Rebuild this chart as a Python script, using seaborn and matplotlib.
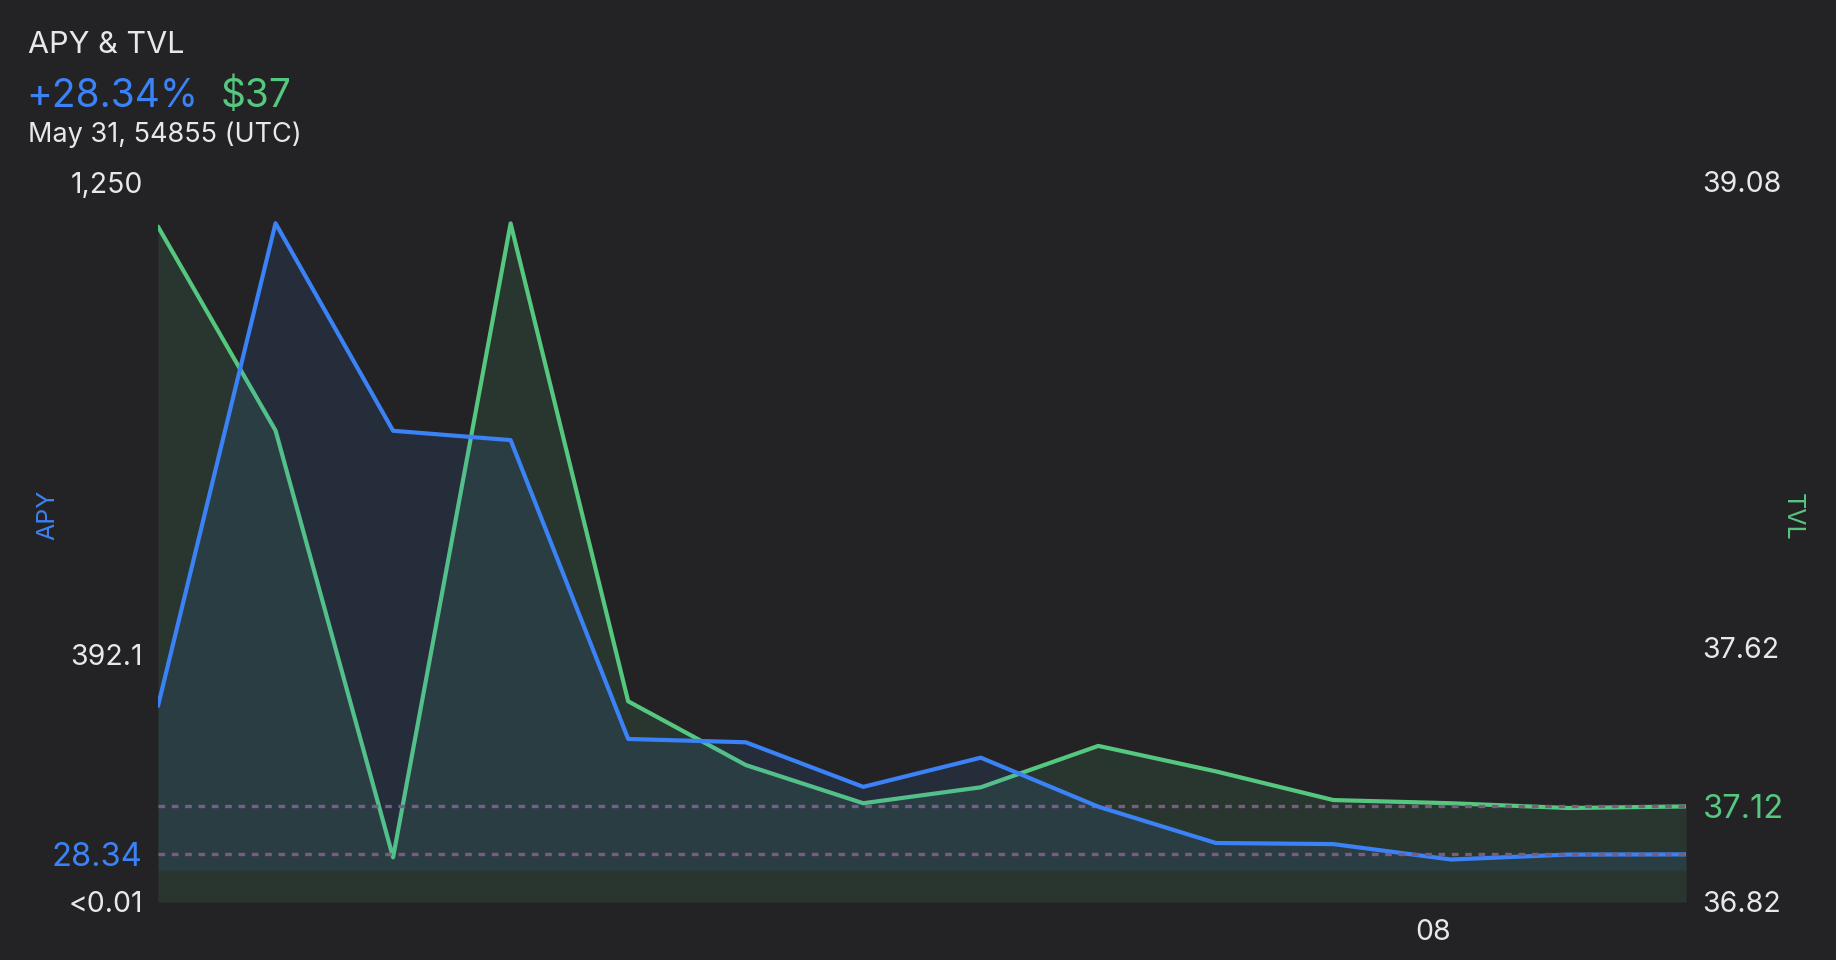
import numpy as np
import pandas as pd
import seaborn as sns
import matplotlib.pyplot as plt

# data
steps = list(range(14))
apy = [298, 1175, 798, 781, 238, 232, 151, 204, 115, 49, 47, 19, 28, 28.34]
tvl = [38.94, 38.30, 36.96, 38.95, 37.45, 37.25, 37.13, 37.18, 37.31, 37.23, 37.14, 37.13, 37.115, 37.12]
apy_ticks = [1250, 392.1, 28.34]
apy_tick_labels = ['1,250', '392.1', '28.34', '<0.01']
tvl_ticks = [39.08, 37.62, 37.12, 36.82]
tvl_tick_labels = ['39.08', '37.62', '37.12', '36.82']
x_ticks = [10.85]
x_tick_labels = ['08']

df = pd.DataFrame({'step': steps, 'apy': apy, 'tvl': tvl})

bg = '#232325'
blue = '#3b82f6'
green = '#56c77f'
txt = '#e8e8ec'
dot = '#7c5c7e'

sns.set_theme(style='dark', rc={'figure.facecolor': bg, 'axes.facecolor': bg})
plt.rcParams['font.family'] = ['Inter', 'DejaVu Sans']

fig = plt.figure(figsize=(18.36, 9.6), dpi=100)
ax = fig.add_axes([158 / 1836, 1 - 902 / 960, 1528 / 1836, 720 / 960])
ax2 = ax.twinx()

apy_bottom = -58.2
ax.set_ylim(apy_bottom, 1250)
ax2.set_ylim(36.82, 39.08)
ax.set_xlim(0, 13)

# TVL (right axis)
ax2.fill_between(df['step'], df['tvl'], 36.82, color=green, alpha=0.12, lw=0)
sns.lineplot(data=df, x='step', y='tvl', ax=ax2, color=green, linewidth=3.0)
ax2.axhline(tvl[-1], color=dot, lw=2.4, ls=(0, (2, 2)))

# APY (left axis) on top
ax.set_zorder(ax2.get_zorder() + 1)
ax.patch.set_visible(False)
ax.fill_between(df['step'], df['apy'], 0, color=blue, alpha=0.1, lw=0)
sns.lineplot(data=df, x='step', y='apy', ax=ax, color=blue, linewidth=3.0)
ax.axhline(apy[-1], color=dot, lw=2.4, ls=(0, (2, 2)))

for a in (ax, ax2):
    for s in a.spines.values():
        s.set_visible(False)
    a.grid(False)
    a.set_xlabel('')
    a.set_ylabel('')

ax.set_yticks(apy_ticks + [apy_bottom])
ax.set_yticklabels(apy_tick_labels)
ax.tick_params(axis='y', length=0, pad=11, labelsize=20.5, labelcolor=txt)
ax.get_yticklabels()[2].set_color(blue)
ax.get_yticklabels()[2].set_fontsize(23.5)

ax2.set_yticks(tvl_ticks)
ax2.set_yticklabels(tvl_tick_labels)
ax2.tick_params(axis='y', length=0, pad=12, labelsize=20.5, labelcolor=txt)
ax2.get_yticklabels()[2].set_color(green)
ax2.get_yticklabels()[2].set_fontsize(23.5)

ax.set_xticks(x_ticks)
ax.set_xticklabels(x_tick_labels)
ax.tick_params(axis='x', length=0, pad=12, labelsize=20.5, labelcolor=txt)

# header
fig.text(28 / 1836, 1 - 53 / 960, 'APY & TVL', color=txt, fontsize=22, va='baseline')
fig.text(26 / 1836, 1 - 107 / 960, '+28.34%', color=blue, fontsize=28, va='baseline')
fig.text(221 / 1836, 1 - 107 / 960, '$37', color=green, fontsize=28, va='baseline')
fig.text(28 / 1836, 1 - 142 / 960, 'May 31, 54855 (UTC)', color=txt, fontsize=19.5, va='baseline')

fig.text(48 / 1836, 1 - 515 / 960, 'APY', color=blue, fontsize=18, rotation=90, ha='center', va='center')
fig.text(1792 / 1836, 1 - 517 / 960, 'TVL', color=green, fontsize=18, rotation=270, ha='center', va='center')

fig.savefig('out.png', dpi=100, facecolor=bg)
